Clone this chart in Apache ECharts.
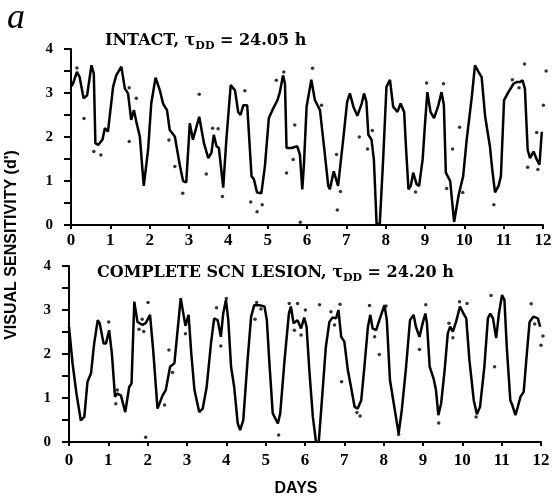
<!DOCTYPE html>
<html>
<head>
<meta charset="utf-8">
<script src="https://cdn.jsdelivr.net/npm/echarts@6/dist/echarts.min.js"></script>
<style>
  html, body { margin: 0; padding: 0; background: #fff; }
  #chart { width: 555px; height: 503px; }
</style>
</head>
<body>
<div id="chart"></div>
<script>
// values: [day, d']
var intactLine = [
    [0.0, 3.15], [0.05, 3.21], [0.15, 3.48], [0.22, 3.36], [0.32, 2.88], [0.41, 2.95], [0.52, 3.63],
    [0.58, 3.44], [0.62, 1.86], [0.69, 1.82], [0.80, 1.94], [0.86, 2.2], [0.94, 2.12], [1.07, 3.14],
    [1.15, 3.40], [1.28, 3.60], [1.37, 3.10], [1.45, 2.99], [1.53, 2.39], [1.60, 2.61], [1.66, 2.35],
    [1.75, 2.01], [1.85, 0.89], [1.96, 1.71], [2.04, 2.76], [2.15, 3.35], [2.26, 3.06], [2.34, 2.76],
    [2.44, 2.61], [2.51, 2.16], [2.64, 2.01], [2.77, 1.34], [2.85, 1.0], [2.93, 0.97], [3.02, 2.31],
    [3.10, 1.94], [3.26, 2.46], [3.38, 1.86], [3.49, 1.52], [3.57, 1.64], [3.63, 2.05], [3.70, 1.79],
    [3.76, 1.75], [3.87, 0.85], [3.95, 1.94], [4.06, 3.18], [4.17, 3.06], [4.25, 2.57], [4.31, 2.5],
    [4.38, 2.72], [4.48, 2.72], [4.59, 1.11], [4.65, 1.04], [4.73, 0.74], [4.84, 0.72], [4.93, 1.34],
    [5.03, 2.43], [5.12, 2.61], [5.25, 2.84], [5.31, 3.02], [5.39, 3.40], [5.44, 3.21], [5.48, 1.75],
    [5.61, 1.75], [5.75, 1.79], [5.82, 1.60], [5.88, 0.81], [5.92, 1.34], [5.99, 2.69], [6.11, 3.30],
    [6.20, 2.84], [6.33, 2.61], [6.45, 1.64], [6.54, 0.89], [6.58, 0.81], [6.68, 1.22], [6.79, 0.89],
    [6.92, 1.94], [7.02, 2.80], [7.09, 2.99], [7.18, 2.69], [7.28, 2.48], [7.39, 2.76], [7.45, 2.99],
    [7.51, 2.80], [7.56, 2.05], [7.64, 1.94], [7.70, 1.49], [7.77, 0.02], [7.85, 0.02], [7.94, 1.56],
    [8.02, 3.14], [8.11, 3.30], [8.19, 2.69], [8.30, 2.57], [8.38, 2.76], [8.47, 2.57], [8.52, 1.71],
    [8.58, 0.81], [8.64, 0.89], [8.70, 1.19], [8.79, 0.92], [8.85, 0.89], [8.94, 1.49], [9.0, 2.3],
    [9.06, 3.02], [9.14, 2.57], [9.23, 2.43], [9.34, 2.72], [9.42, 3.02], [9.48, 2.72], [9.53, 1.19],
    [9.64, 1.0], [9.74, 0.07], [9.85, 0.66], [9.97, 1.11], [10.06, 1.94], [10.19, 2.91], [10.27, 3.63],
    [10.36, 3.48], [10.44, 3.36], [10.53, 2.46], [10.65, 1.79], [10.71, 1.26], [10.78, 0.74], [10.87, 0.89],
    [10.93, 1.11], [11.01, 2.84], [11.12, 3.02], [11.25, 3.21], [11.33, 3.25], [11.42, 3.25], [11.48, 3.29],
    [11.54, 3.10], [11.61, 1.71], [11.67, 1.52], [11.76, 1.67], [11.84, 1.49], [11.91, 1.37], [11.97, 2.12]
];
var intactDots = [
    [0.15, 3.57], [0.33, 2.42], [0.58, 1.67], [0.76, 1.59], [1.48, 3.12], [1.66, 2.88], [1.48, 1.90],
    [2.49, 1.93], [2.64, 1.33], [2.84, 0.72], [3.26, 2.97], [3.44, 1.16], [3.60, 2.20], [3.74, 2.19],
    [3.85, 0.65], [4.42, 3.05], [4.57, 0.52], [4.73, 0.30], [4.86, 0.46], [5.22, 3.29], [5.41, 3.48],
    [5.48, 1.18], [5.65, 1.49], [5.69, 2.27], [5.83, 0.06], [6.14, 3.56], [6.37, 2.72], [6.75, 1.60],
    [6.85, 0.76], [6.77, 0.34], [7.33, 2.0], [7.54, 1.73], [7.66, 2.15], [8.76, 0.75], [9.04, 3.23],
    [9.47, 3.21], [9.55, 0.83], [9.70, 1.73], [9.88, 2.22], [9.96, 0.74], [10.75, 0.46], [11.22, 3.30],
    [11.39, 3.12], [11.53, 3.66], [11.61, 1.31], [11.84, 2.10], [11.87, 1.26], [12.01, 2.72], [12.08, 3.50]
];
var lesionLine = [
    [0.0, 2.62], [0.09, 1.79], [0.19, 1.10], [0.30, 0.49], [0.39, 0.57], [0.47, 1.37], [0.56, 1.56],
    [0.64, 2.24], [0.73, 2.77], [0.78, 2.70], [0.88, 2.24], [0.94, 2.24], [1.02, 2.54], [1.09, 2.01],
    [1.17, 1.03], [1.23, 1.10], [1.32, 1.06], [1.43, 0.68], [1.53, 1.25], [1.59, 1.33], [1.66, 3.19],
    [1.74, 2.73], [1.87, 2.66], [1.95, 2.70], [2.06, 2.89], [2.14, 2.09], [2.25, 0.76], [2.38, 1.06],
    [2.46, 1.18], [2.57, 1.71], [2.68, 1.79], [2.84, 3.27], [2.96, 2.64], [3.04, 2.89], [3.11, 2.0],
    [3.19, 1.18], [3.31, 0.68], [3.40, 0.76], [3.50, 1.25], [3.61, 2.24], [3.69, 2.81], [3.78, 2.77],
    [3.86, 2.39], [3.92, 2.92], [3.99, 3.23], [4.05, 2.77], [4.12, 1.71], [4.20, 1.25], [4.29, 0.42],
    [4.35, 0.27], [4.43, 0.49], [4.54, 1.86], [4.63, 2.85], [4.71, 3.11], [4.84, 3.11], [4.97, 3.08],
    [5.03, 2.77], [5.09, 1.86], [5.18, 0.65], [5.31, 0.42], [5.37, 0.65], [5.48, 1.86], [5.59, 2.92],
    [5.64, 3.08], [5.71, 2.70], [5.81, 2.77], [5.90, 2.58], [5.98, 2.83], [6.04, 2.62], [6.11, 1.63],
    [6.20, 0.57], [6.28, 0.0], [6.35, 0.0], [6.43, 0.95], [6.53, 2.16], [6.62, 2.73], [6.70, 2.83],
    [6.79, 2.81], [6.85, 3.0], [6.92, 2.39], [7.00, 2.28], [7.09, 1.63], [7.17, 1.25], [7.26, 0.80],
    [7.34, 0.76], [7.43, 0.95], [7.51, 1.71], [7.60, 2.62], [7.66, 2.89], [7.72, 2.58], [7.81, 2.54],
    [7.89, 2.77], [8.02, 3.11], [8.08, 2.77], [8.16, 1.41], [8.27, 0.80], [8.38, 0.19], [8.46, 0.72],
    [8.57, 1.71], [8.67, 2.77], [8.76, 2.89], [8.82, 2.62], [8.91, 2.39], [9.00, 2.73], [9.06, 2.92],
    [9.10, 2.70], [9.17, 1.71], [9.27, 1.44], [9.33, 1.18], [9.39, 0.61], [9.46, 0.87], [9.55, 1.63],
    [9.63, 2.47], [9.69, 2.62], [9.76, 2.51], [9.84, 2.73], [9.94, 3.08], [10.03, 2.92], [10.10, 2.81],
    [10.18, 1.86], [10.29, 0.95], [10.37, 0.63], [10.45, 0.80], [10.56, 1.71], [10.65, 2.81], [10.71, 2.92],
    [10.78, 2.81], [10.86, 2.36], [10.93, 2.92], [11.01, 3.34], [11.07, 3.23], [11.13, 2.16], [11.22, 0.95],
    [11.27, 0.84], [11.35, 0.61], [11.41, 0.80], [11.48, 1.03], [11.56, 1.14], [11.64, 2.01], [11.71, 2.73],
    [11.81, 2.85], [11.92, 2.81], [11.98, 2.62]
];
var lesionDots = [
    [1.01, 2.73], [1.23, 1.18], [1.19, 0.87], [1.78, 2.56], [1.90, 2.51], [1.86, 2.79], [2.01, 3.17],
    [1.95, 0.11], [2.54, 2.09], [2.63, 1.58], [2.43, 0.84], [2.96, 2.46], [3.75, 3.05], [3.86, 2.18],
    [4.0, 3.26], [4.73, 2.79], [4.77, 3.17], [4.88, 3.02], [5.33, 0.16], [5.60, 3.15], [5.81, 3.15],
    [5.73, 2.54], [5.90, 2.43], [6.01, 3.0], [6.37, 3.12], [6.66, 2.96], [6.75, 2.66], [6.89, 3.13],
    [6.93, 1.37], [7.32, 0.67], [7.40, 0.59], [7.64, 3.10], [7.77, 2.39], [7.89, 1.99], [8.06, 3.09],
    [8.38, 0.17], [8.91, 2.10], [9.07, 3.12], [9.40, 0.43], [9.66, 2.70], [9.76, 2.37], [9.93, 3.19],
    [10.12, 3.15], [10.35, 0.57], [10.73, 3.33], [10.82, 1.71], [11.75, 3.14], [11.84, 2.68], [12.05, 2.41],
    [12.0, 2.20]
];

var panelTitles = [
    ['INTACT, τ', 'DD', ' = 24.05 h'],
    ['COMPLETE SCN LESION, τ', 'DD', ' = 24.20 h']
];
var yName = "VISUAL SENSITIVITY (d')";
var xName = 'DAYS';
var panelLetter = 'a';

var chartDom = document.getElementById('chart');
var myChart = echarts.init(chartDom);
var option;

var serif = '"Liberation Serif", "Times New Roman", serif';
var titleSerif = '"DejaVu Serif", serif';

function xAxisFor(idx, margin) {
    return {
        type: 'value',
        gridIndex: idx,
        min: 0,
        max: 12,
        interval: 1,
        axisLine: { lineStyle: { color: '#000', width: 2 } },
        axisTick: { length: 4, lineStyle: { color: '#000', width: 2 } },
        axisLabel: { color: '#000', fontFamily: serif, fontWeight: 'bold', fontSize: 17, margin: margin },
        splitLine: { show: false }
    };
}

function yAxisFor(idx, margin) {
    return {
        type: 'value',
        gridIndex: idx,
        min: 0,
        max: 4,
        interval: 0.5,
        axisLine: { show: true, lineStyle: { color: '#000', width: 2 } },
        axisTick: { show: true, length: 7, lineStyle: { color: '#000', width: 2 } },
        axisLabel: {
            color: '#000', fontFamily: serif, fontWeight: 'bold', fontSize: 15, margin: margin, align: 'right',
            formatter: function (v) { return Number.isInteger(v) ? String(v) : ''; }
        },
        splitLine: { show: false }
    };
}

function titleText(parts, left, top) {
    return {
        type: 'text',
        left: left,
        top: top,
        style: {
            text: '{m|' + parts[0] + '}{s|' + parts[1] + '}{m|' + parts[2] + '}',
            rich: {
                m: { font: 'bold 16px ' + titleSerif, fill: '#000', lineHeight: 22 },
                s: { font: 'bold 11px ' + titleSerif, fill: '#000', lineHeight: 11, verticalAlign: 'bottom' }
            }
        }
    };
}

option = {
    animation: false,
    backgroundColor: '#fff',
    grid: [
        { left: 71, right: 12, top: 49, height: 176 },
        { left: 69, right: 14, top: 266, height: 176 }
    ],
    xAxis: [xAxisFor(0, 7), xAxisFor(1, 10)],
    yAxis: [yAxisFor(0, 18), yAxisFor(1, 18)],
    graphic: [
        {
            type: 'text', left: 7, top: 1,
            style: { text: panelLetter, font: 'italic 36px ' + serif, fill: '#000' }
        },
        titleText(panelTitles[0], 105, 33),
        titleText(panelTitles[1], 97, 265),
        {
            type: 'text', x: 12, y: 245, rotation: Math.PI / 2,
            style: {
                text: yName, font: 'bold 16px "Liberation Sans", Arial, sans-serif', fill: '#000',
                align: 'center', verticalAlign: 'middle'
            }
        },
        {
            type: 'text', x: 296, y: 489,
            style: {
                text: xName, font: 'bold 16px "Liberation Sans", Arial, sans-serif', fill: '#000',
                align: 'center', verticalAlign: 'middle'
            }
        }
    ],
    series: [
        {
            name: 'Intact',
            type: 'line',
            xAxisIndex: 0,
            yAxisIndex: 0,
            data: intactLine,
            showSymbol: false,
            lineStyle: { color: '#000', width: 2.5 }
        },
        {
            name: 'Intact samples',
            type: 'scatter',
            xAxisIndex: 0,
            yAxisIndex: 0,
            clip: false,
            data: intactDots,
            symbolSize: 3.5,
            itemStyle: { color: '#000' }
        },
        {
            name: 'Lesion',
            type: 'line',
            xAxisIndex: 1,
            yAxisIndex: 1,
            data: lesionLine,
            showSymbol: false,
            lineStyle: { color: '#000', width: 2.5 }
        },
        {
            name: 'Lesion samples',
            type: 'scatter',
            xAxisIndex: 1,
            yAxisIndex: 1,
            clip: false,
            data: lesionDots,
            symbolSize: 3.5,
            itemStyle: { color: '#000' }
        }
    ]
};

option && myChart.setOption(option);
</script>
</body>
</html>
